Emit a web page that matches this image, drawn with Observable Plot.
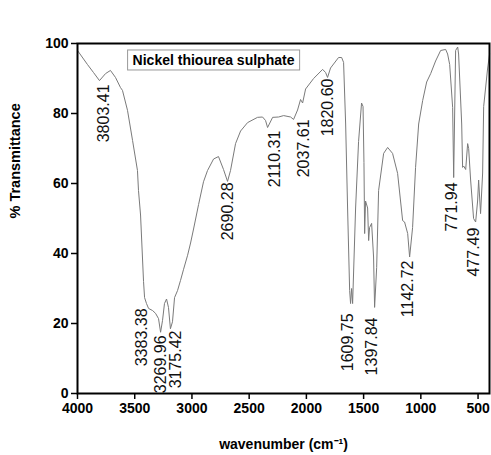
<!DOCTYPE html>
<html><head><meta charset="utf-8">
<script src="https://cdn.jsdelivr.net/npm/d3@7"></script>
<script src="https://cdn.jsdelivr.net/npm/@observablehq/plot@0.6"></script>
<style>
body{margin:0;background:#fff;}
#chart{width:491px;height:455px;}
</style></head><body><div id="chart"></div>
<script>
const wavenumber = [4000, 3913, 3860, 3808, 3755, 3712, 3668, 3624, 3607, 3563, 3519, 3476, 3467, 3449, 3423, 3414, 3397, 3379, 3344, 3318, 3292, 3274, 3257, 3240, 3222, 3205, 3188, 3170, 3152, 3126, 3100, 3073, 3038, 3012, 2986, 2942, 2899, 2864, 2811, 2768, 2724, 2689, 2663, 2619, 2575, 2514, 2427, 2383, 2357, 2339, 2295, 2243, 2199, 2138, 2112, 2077, 2051, 2033, 2007, 1937, 1858, 1832, 1815, 1789, 1719, 1692, 1675, 1657, 1640, 1622, 1614, 1605, 1596, 1570, 1544, 1518, 1505, 1497, 1491, 1483, 1465, 1456, 1448, 1430, 1413, 1404, 1386, 1369, 1325, 1290, 1247, 1203, 1159, 1142, 1115, 1098, 1072, 1046, 1019, 984, 949, 914, 871, 827, 783, 766, 748, 722, 713, 696, 678, 670, 643, 635, 626, 608, 591, 582, 565, 539, 521, 504, 495, 478, 460, 451, 416, 399];
const transmittance = [98, 94, 91.7, 89.4, 91.4, 92.3, 90.3, 87.4, 86.6, 80.9, 72.3, 63.7, 58, 51, 32, 27.4, 25.7, 24.3, 23.7, 22.9, 21.4, 17.5, 20.9, 25.7, 27, 24.6, 18.5, 20.5, 27.4, 29.4, 32.3, 35.5, 39.5, 43, 47, 54, 60.5, 63.7, 67, 67.7, 64, 60.6, 63.7, 71.4, 75, 77.4, 78.9, 79, 78, 76, 78.9, 79, 79.4, 79, 78.3, 81, 84, 83, 87, 90, 92.6, 91.7, 90.3, 93, 96, 96, 94.6, 77, 53, 29.4, 25.7, 30, 25.7, 53, 72, 83, 82, 66, 45.7, 55, 53, 43.7, 47.4, 48.6, 39, 24.6, 36, 58, 68.6, 70.3, 68.6, 62.9, 49.4, 49, 45.7, 39, 47.4, 64.6, 77, 83.7, 89, 91.4, 95, 98, 98.3, 97, 94, 81.7, 61.7, 98, 99, 97, 77, 64.6, 65, 64, 71.4, 70, 61, 50, 49, 55, 61, 51.4, 63, 82, 93, 97];

const peakLabels = ["3803.41", "3383.38", "3269.96", "3175.42", "2690.28", "2110.31", "2037.61", "1820.60", "1609.75", "1397.84", "1142.72", "771.94", "477.49"];
const peakWavenumber = [3773, 3434, 3274, 3143, 2689, 2278, 2025, 1815, 1640, 1430, 1115, 731, 539];
const peakTransmittance = [88.3, 24.3, 16.6, 18, 60.3, 75.1, 78.3, 90, 22.9, 21.7, 38, 60.3, 47.4];

const xTicks = [4000, 3500, 3000, 2500, 2000, 1500, 1000, 500];
const yTicks = [0, 20, 40, 60, 80, 100];
const xLabel = "wavenumber (cm\u207B\u00B9)";
const yLabel = "% Transmittance";
const sampleName = "Nickel thiourea sulphate";

const spectrum = wavenumber.map((w, i) => ({w, t: transmittance[i]}));
const peaks = peakLabels.map((label, i) => ({label, w: peakWavenumber[i], t: peakTransmittance[i]}));

const chart = Plot.plot({
  width: 491, height: 455,
  marginLeft: 77, marginRight: 2, marginTop: 43, marginBottom: 62,
  style: {fontFamily: "'Liberation Sans', Arial, sans-serif", fontWeight: "bold", fontSize: "14px", background: "#fff", color: "#000", overflow: "visible"},
  x: {domain: [4000, 400]},
  y: {domain: [0, 100]},
  marks: [
    Plot.axisX({ticks: xTicks, tickSize: 6, tickPadding: 4, tickFormat: d => String(d), label: null, strokeWidth: 1.5}),
    Plot.axisY({ticks: yTicks, tickSize: 6, tickPadding: 3, tickFormat: d => String(d), label: null, strokeWidth: 1.5}),
    Plot.line(spectrum, {x: "w", y: "t", stroke: "#7a7a7a", strokeWidth: 1}),
    Plot.text(peaks, {x: "w", y: "t", text: "label", rotate: -90, textAnchor: "end", fontWeight: "normal", fontSize: 16, fill: "#111"}),
    Plot.text([xLabel], {frameAnchor: "bottom", dy: 51, lineAnchor: "middle", fontSize: 14}),
    Plot.text([yLabel], {frameAnchor: "left", dx: -62, rotate: -90, lineAnchor: "middle", fontSize: 14.5}),
    Plot.text([sampleName], {frameAnchor: "top-left", dx: 136, dy: 17, textAnchor: "middle", lineAnchor: "middle", fontSize: 14, className: "sample-name"}),
    Plot.frame({stroke: "#000", strokeWidth: 2})
  ]
});
document.getElementById("chart").appendChild(chart);

// draw the box around the sample name
const nameText = chart.querySelector(".sample-name text");
if (nameText) {
  const bb = nameText.getBBox();
  const rect = document.createElementNS("http://www.w3.org/2000/svg", "rect");
  rect.setAttribute("x", bb.x - 5);
  rect.setAttribute("y", bb.y - 2);
  rect.setAttribute("width", bb.width + 10);
  rect.setAttribute("height", bb.height + 4);
  rect.setAttribute("fill", "#fff");
  rect.setAttribute("stroke", "#999");
  rect.setAttribute("stroke-width", 1);
  const g = nameText.parentNode;
  const t = nameText.getAttribute("transform");
  if (t) rect.setAttribute("transform", t);
  g.insertBefore(rect, nameText);
}
</script></body></html>
